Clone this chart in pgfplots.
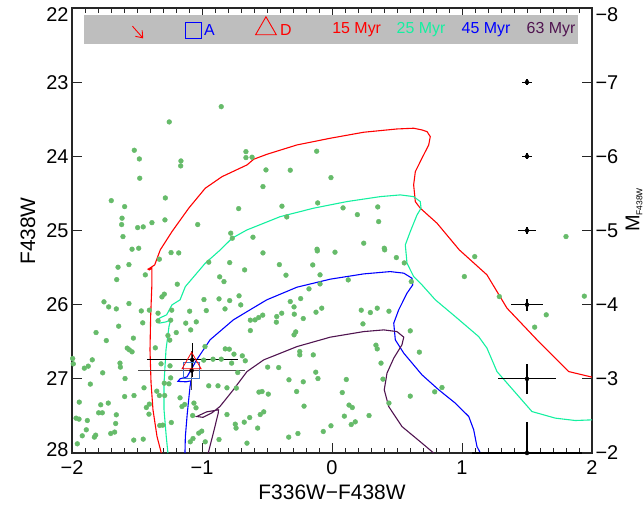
\documentclass[border=0pt]{standalone}
\usepackage{fontspec}
\setmainfont{Liberation Sans}
\usepackage{pgfplots}
\pgfplotsset{compat=1.18}
\usetikzlibrary{shapes.geometric,arrows.meta}

\definecolor{iso15}{RGB}{255,0,0}
\definecolor{iso25}{RGB}{20,240,160}
\definecolor{iso45}{RGB}{0,0,255}
\definecolor{iso63}{RGB}{80,20,80}
\definecolor{star}{RGB}{102,187,106}
\definecolor{legbg}{RGB}{190,190,190}
\definecolor{sqA}{RGB}{60,120,200}

\begin{document}
\begin{tikzpicture}
\begin{axis}[
  at={(0,0)}, anchor=south west,
  width=520bp, height=445bp, scale only axis,
  xmin=-2, xmax=2, ymin=22, ymax=28, y dir=reverse,
  xtick={-2,-1,0,1,2}, xticklabels={−2,−1,0,1,2},
  minor x tick num=9,
  ytick={23,24,25,26,27,28},
  yticklabels={23,24,25,26,27,\raisebox{6bp}{28}},
  extra y ticks={22}, extra y tick labels={22},
  extra y tick style={tick label style={yshift=-7bp}},
  yticklabel pos=left,
  tick align=inside,
  major tick length=10bp, minor tick length=5bp,
  axis line style={line width=1.1pt, black!85},
  every tick/.style={black!85, line width=0.9pt},
  tick label style={font=\fontsize{20}{24}\selectfont},
  x tick label style={yshift=-4bp},
]
% legend box
\fill[legbg] (axis cs:-1.908,22.094) rectangle (axis cs:1.892,22.489);
\draw[iso15, line width=0.9pt, -{Straight Barb[length=6bp,width=9bp]}] (axis cs:-1.535,22.245) -- (axis cs:-1.452,22.41);
\node[draw=iso45, color=iso45, line width=0.9pt, minimum size=16bp, inner sep=0pt] at (axis cs:-1.069,22.296) {};
\node[anchor=west, text=iso45, font=\fontsize{16}{18}\selectfont, inner sep=0pt] at (axis cs:-0.985,22.296) {A};
\node[draw=iso15, line width=0.9pt, regular polygon, regular polygon sides=3, minimum size=24bp, inner sep=0pt] at (axis cs:-0.508,22.28) {};
\node[anchor=west, text=iso15, font=\fontsize{16}{18}\selectfont, inner sep=0pt] at (axis cs:-0.40,22.296) {D};
\node[text=iso15, font=\fontsize{16}{18}\selectfont, inner sep=0pt] at (axis cs:0.19,22.296) {15 Myr};
\node[text=iso25, font=\fontsize{16}{18}\selectfont, inner sep=0pt] at (axis cs:0.685,22.296) {25 Myr};
\node[text=iso45, font=\fontsize{16}{18}\selectfont, inner sep=0pt] at (axis cs:1.185,22.296) {45 Myr};
\node[text=iso63, font=\fontsize{16}{18}\selectfont, inner sep=0pt] at (axis cs:1.685,22.296) {63 Myr};

% stars
\addplot[only marks, mark=*, mark size=2.4bp, color=star, mark options={draw=none, fill=star}] table {
x y
-0.852 23.330
-1.252 23.536
-1.521 23.918
-1.482 24.035
-1.162 24.062
-1.164 24.129
-1.479 24.295
-0.662 23.937
-0.662 24.017
-1.698 24.597
-1.595 24.678
-1.282 24.561
-0.718 24.705
-1.615 24.834
-1.618 24.920
-1.495 24.961
-1.452 24.951
-1.385 24.894
-1.285 24.857
-1.033 24.920
-1.608 25.082
-0.779 25.036
-0.767 25.104
-1.538 25.252
-1.487 25.239
-0.615 24.012
-0.118 23.931
-0.508 24.183
-0.321 24.187
-0.008 24.287
-0.531 24.408
-0.385 24.672
-0.110 24.628
0.085 24.695
0.352 24.682
-0.348 24.817
0.195 24.786
0.359 24.880
-0.608 25.090
0.244 25.171
-0.115 25.252
0.402 25.239
1.800 25.082
-1.238 25.298
-1.179 25.302
-1.646 25.495
-1.562 25.460
-1.328 25.387
-1.436 25.598
-1.656 25.662
-0.948 25.427
-0.787 25.433
-0.864 25.625
-0.831 25.689
-1.190 25.724
-0.672 25.531
-1.308 25.895
-1.290 25.858
-1.754 25.962
-1.718 26.030
-1.659 26.057
-1.562 25.985
-1.467 26.084
-1.405 26.074
-1.338 26.115
-1.233 26.074
-1.095 26.088
-0.985 25.931
-0.967 26.080
-0.869 25.922
-0.823 26.057
-0.787 25.945
-0.715 25.881
-0.702 26.003
-1.641 26.290
-1.456 26.245
-1.338 26.218
-1.241 26.209
-1.125 26.249
-1.087 26.340
-1.044 26.232
-1.198 26.376
-1.815 26.376
-1.736 26.484
-1.528 26.451
-1.262 26.416
-1.248 26.478
-1.575 26.586
-1.559 26.609
-1.538 26.636
-1.359 26.582
-0.977 26.565
-0.821 26.596
-0.790 26.600
-0.754 26.667
-0.690 26.690
-1.844 26.744
-1.875 26.829
-1.905 26.856
-1.631 26.788
-1.628 26.842
-1.995 26.726
-1.990 26.798
-1.764 26.919
-1.315 26.798
-1.246 26.825
-0.987 26.748
-0.915 26.735
-0.852 26.735
-0.772 26.788
-0.667 26.757
-1.592 26.996
-1.859 27.071
-1.290 27.058
-1.254 27.067
-1.241 26.987
-0.725 26.915
-1.595 27.239
-1.523 27.225
-1.446 27.121
-1.348 27.166
-1.328 27.225
-1.287 27.225
-1.169 27.256
-1.405 27.341
-1.428 27.387
-1.408 27.476
-1.944 27.314
-1.779 27.350
-1.721 27.327
-1.795 27.458
-1.767 27.458
-1.969 27.530
-1.946 27.543
-1.882 27.562
-1.659 27.485
-1.664 27.602
-1.702 27.737
-1.672 27.718
-1.818 27.759
-1.828 27.786
-1.921 27.768
-1.890 27.687
-1.959 27.876
-1.525 27.826
-1.452 27.813
-1.325 27.629
-1.302 27.624
-1.236 27.589
-1.154 27.373
-1.133 27.346
-1.062 27.327
-1.046 27.391
-1.025 27.732
-1.002 27.705
-1.090 27.849
-1.069 27.805
-1.072 27.495
-0.975 27.849
-0.869 27.818
-0.744 27.611
-0.738 27.664
-0.675 27.584
-0.808 27.481
-0.808 27.121
-0.736 27.125
-0.877 27.094
-0.948 27.094
-0.531 25.302
-0.113 25.275
0.023 25.292
0.405 25.261
-0.405 25.460
-0.148 25.464
0.495 25.365
0.556 25.437
-0.354 25.602
-0.092 25.598
0.125 25.666
-0.092 25.720
-0.177 25.787
0.610 25.689
-0.321 25.958
-0.241 25.918
-0.292 26.030
-0.387 26.115
-0.425 26.160
-0.428 26.236
-0.290 26.128
-0.221 26.187
-0.123 26.101
-0.079 26.047
-0.628 26.209
-0.592 26.205
-0.564 26.174
-0.533 26.141
-0.628 26.349
-0.292 26.407
-0.279 26.367
0.225 26.074
0.295 26.106
0.348 26.047
0.438 26.088
0.238 26.259
0.602 26.353
0.338 26.546
0.348 26.596
-0.248 26.632
-0.248 26.677
-0.144 26.677
0.672 26.640
-0.495 26.842
-0.410 26.848
0.377 26.788
-0.125 26.910
-0.108 26.996
-0.331 27.013
-0.221 27.040
0.110 27.009
0.392 27.004
-0.562 27.179
-0.538 27.171
-0.490 27.206
-0.272 27.171
0.079 27.185
0.602 27.233
0.438 27.327
-0.215 27.368
0.131 27.354
0.156 27.387
-0.633 27.522
-0.552 27.481
-0.525 27.445
0.095 27.503
0.285 27.495
0.179 27.580
0.148 27.616
-0.572 27.664
-0.008 27.633
-0.067 27.710
-0.262 27.737
-0.333 27.786
-0.654 27.867
1.098 25.352
1.018 25.621
1.287 25.891
1.648 26.137
1.559 26.303
1.941 25.885
0.846 27.117
0.790 27.175
};

% 15 Myr
\addplot[iso15, line width=1.1pt, mark=none] coordinates {
(-1.313,28.0) (-1.346,27.778) (-1.377,27.418) (-1.392,27.054) (-1.400,26.609)
(-1.395,26.160) (-1.385,25.706) (-1.385,25.508) (-1.405,25.531) (-1.415,25.521)
(-1.398,25.504) (-1.364,25.464) (-1.321,25.261) (-1.231,25.015) (-1.102,24.699)
(-0.975,24.430) (-0.846,24.274) (-0.654,24.116) (-0.602,24.039) (-0.500,23.972)
(-0.269,23.846) (-0.013,23.756) (0.244,23.675) (0.500,23.631) (0.628,23.621)
(0.692,23.644) (0.731,23.667) (0.756,23.734) (0.744,23.846) (0.692,24.026)
(0.641,24.206) (0.628,24.385) (0.641,24.611) (0.679,24.699) (0.808,24.902)
(0.979,25.261) (1.192,25.598) (1.346,26.047) (1.577,26.474) (1.821,26.902)
(2.0,26.977)
};
% 25 Myr
\addplot[iso25, line width=1.1pt, mark=none] coordinates {
(-1.262,28.0) (-1.275,27.778) (-1.292,27.418) (-1.292,27.058) (-1.277,26.609)
(-1.254,26.295) (-1.241,26.205) (-1.277,26.232) (-1.328,26.249) (-1.346,26.214)
(-1.323,26.178) (-1.272,26.137) (-1.231,26.003) (-1.169,25.935) (-1.128,25.756)
(-0.975,25.441) (-0.859,25.261) (-0.769,25.104) (-0.654,24.992) (-0.525,24.902)
(-0.398,24.813) (-0.141,24.699) (0.115,24.610) (0.372,24.543) (0.525,24.520)
(0.628,24.543) (0.679,24.610) (0.685,24.699) (0.654,24.790) (0.602,25.015)
(0.564,25.194) (0.577,25.441) (0.628,25.621) (0.692,25.733) (0.795,25.935)
(0.948,26.160) (1.128,26.430) (1.192,26.586) (1.269,26.902) (1.538,27.441)
(1.718,27.530) (1.872,27.562) (2.0,27.553)
};
% 45 Myr
\addplot[iso45, line width=1.1pt, mark=none] coordinates {
(-1.131,28.0) (-1.128,27.778) (-1.113,27.462) (-1.092,27.104) (-1.085,27.027)
(-1.123,27.040) (-1.185,27.034) (-1.169,27.0) (-1.115,26.973) (-1.041,26.744)
(-0.938,26.474) (-0.759,26.205) (-0.631,26.070) (-0.502,25.935) (-0.269,25.764)
(-0.013,25.656) (0.244,25.585) (0.448,25.554) (0.552,25.575) (0.615,25.643)
(0.621,25.733) (0.577,25.845) (0.513,26.070) (0.475,26.249) (0.487,26.474)
(0.552,26.654) (0.692,26.946) (0.821,27.148) (0.948,27.327) (1.052,27.508)
(1.090,27.687) (1.115,27.912) (1.141,28.0)
};
% 63 Myr
\addplot[iso63, line width=1.1pt, mark=none] coordinates {
(-0.952,28.0) (-0.913,27.732) (-0.875,27.462) (-0.873,27.418) (-0.964,27.445)
(-1.041,27.508) (-0.992,27.519) (-0.923,27.458) (-0.862,27.373) (-0.759,27.148)
(-0.654,26.902) (-0.525,26.744) (-0.269,26.565) (-0.013,26.438) (0.244,26.363)
(0.398,26.340) (0.500,26.363) (0.552,26.438) (0.538,26.542) (0.475,26.721)
(0.423,26.923) (0.402,27.148) (0.436,27.373) (0.538,27.643) (0.692,27.867)
(0.782,28.0)
};

% typical photometric errors
\addplot[only marks, mark=none, error bars/.cd, x dir=both, x explicit, y dir=both, y explicit,
  error mark=none, error bar style={line width=1.3pt, black}] table[x=x, y=y, x error=ex, y error=ey] {
x y ex ey
1.5 23 0.035 0.04
1.5 24 0.035 0.04
1.5 25 0.07 0.05
1.5 26 0.12 0.08
1.5 27 0.224 0.20
1.5 28 0.42 0.42
};

% clusters A and D
\addplot[only marks, mark=none, error bars/.cd, x dir=both, x explicit, y dir=both, y explicit,
  error mark=none, error bar style={line width=1.3pt, black!70}] table[x=x, y=y, x error=ex, y error=ey] {
x y ex ey
-1.08 26.888 0.41 0.26
};
\addplot[only marks, mark=none, error bars/.cd, x dir=both, x explicit, y dir=both, y explicit,
  error mark=none, error bar style={line width=1.3pt, black}] table[x=x, y=y, x error=ex, y error=ey] {
x y ex ey
-1.075 26.744 0.35 0.23
};
\addplot[only marks, mark=square, mark size=8bp, mark options={draw=sqA, line width=0.8pt, fill=none}] coordinates {(-1.08,26.89)};
\addplot[only marks, mark=triangle, mark size=11bp, mark options={draw=iso15, line width=0.8pt, fill=none}] coordinates {(-1.08,26.79)};
\end{axis}

\begin{axis}[
  at={(0,0)}, anchor=south west,
  width=520bp, height=445bp, scale only axis,
  xmin=-2, xmax=2, ymin=-8, ymax=-2, y dir=reverse,
  hide x axis, axis y line*=right, axis line style={draw=none},
  ytick={-7,-6,-5,-4,-3,-2}, yticklabels={−7,−6,−5,−4,−3,−2},
  extra y ticks={-8}, extra y tick labels={−8},
  extra y tick style={tick label style={yshift=-7bp}},
  major tick length=0pt,
  tick label style={font=\fontsize{20}{24}\selectfont},
]
\addplot[draw=none] coordinates {(0,-5)};
\end{axis}

\node[font=\fontsize{21}{25}\selectfont] at (260bp,-39bp) {F336W−F438W};
\node[font=\fontsize{21}{25}\selectfont, rotate=90] at (-44bp,222bp) {F438W};
\node[rotate=90, inner sep=0pt] at (562bp,243bp) {\fontsize{20}{24}\selectfont M\raisebox{-3bp}{\fontsize{8.5}{10}\selectfont F438W}};

\pgfresetboundingbox
\path (-72bp,-59bp) rectangle (572bp,453bp);
\end{tikzpicture}
\end{document}
